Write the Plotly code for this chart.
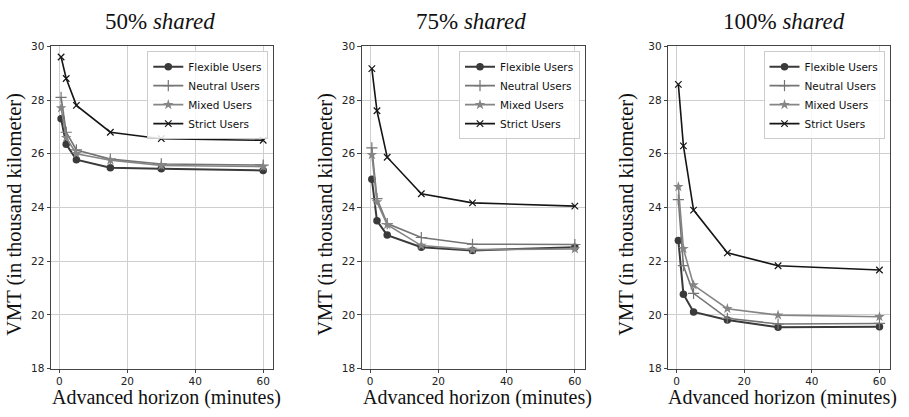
import plotly.graph_objects as go
from plotly.subplots import make_subplots

horizon = [0.5, 2, 5, 15, 30, 60]
panel_titles = ["50% <i>shared</i>", "75% <i>shared</i>", "100% <i>shared</i>"]
series_names = ["Flexible Users", "Neutral Users", "Mixed Users", "Strict Users"]

flexible_50 = [27.3, 26.35, 25.78, 25.48, 25.44, 25.38]
neutral_50 = [28.1, 26.8, 26.14, 25.8, 25.62, 25.58]
mixed_50 = [27.7, 26.6, 26.0, 25.76, 25.56, 25.52]
strict_50 = [29.6, 28.8, 27.8, 26.8, 26.56, 26.5]

flexible_75 = [25.05, 23.5, 22.97, 22.52, 22.4, 22.52]
neutral_75 = [26.22, 24.33, 23.4, 22.88, 22.63, 22.62]
mixed_75 = [25.96, 24.2, 23.36, 22.58, 22.43, 22.45]
strict_75 = [29.17, 27.6, 25.87, 24.51, 24.17, 24.05]

flexible_100 = [22.77, 20.77, 20.11, 19.81, 19.54, 19.56]
neutral_100 = [24.29, 21.83, 20.8, 19.87, 19.66, 19.68]
mixed_100 = [24.77, 22.46, 21.11, 20.23, 19.99, 19.93]
strict_100 = [28.58, 26.29, 23.9, 22.31, 21.83, 21.67]

y_ticks = [18, 20, 22, 24, 26, 28, 30]
x_ticks = [0, 20, 40, 60]

panels = [
    [flexible_50, neutral_50, mixed_50, strict_50],
    [flexible_75, neutral_75, mixed_75, strict_75],
    [flexible_100, neutral_100, mixed_100, strict_100],
]

styles = [
    dict(color="#3a3a3a", width=2.0, symbol="circle", msize=7.5, mline=0),
    dict(color="#747474", width=1.6, symbol="cross-thin", msize=8, mline=1.2),
    dict(color="#858585", width=1.6, symbol="star", msize=8, mline=0),
    dict(color="#151515", width=1.6, symbol="x-thin", msize=6.5, mline=1.2),
]

W, H = 909, 417
x_dom = [(51 / W, 273.3 / W), (361.7 / W, 585 / W), (668.3 / W, 889.5 / W)]
y_dom = (1 - 373.3 / H, 1 - 41.5 / H)

fig = make_subplots(rows=1, cols=3)

legend_names = ["legend", "legend2", "legend3"]
for p, data in enumerate(panels):
    for s, vals in enumerate(data):
        st = styles[s]
        fig.add_trace(
            go.Scatter(
                x=horizon, y=vals, mode="lines+markers", name=series_names[s],
                line=dict(color=st["color"], width=st["width"]),
                marker=dict(symbol=st["symbol"], size=st["msize"], color=st["color"],
                            line=dict(width=st["mline"], color=st["color"])),
                legend=legend_names[p],
            ),
            row=1, col=p + 1,
        )

tick_font = dict(family="DejaVu Sans", size=10.5, color="#222")
for p in range(3):
    xa = "xaxis" if p == 0 else f"xaxis{p + 1}"
    ya = "yaxis" if p == 0 else f"yaxis{p + 1}"
    fig.layout[xa].update(
        domain=list(x_dom[p]), range=[-2.475, 62.975], tickvals=x_ticks,
        showgrid=True, gridcolor="#cfcfcf", gridwidth=1, zeroline=False,
        showline=True, linecolor="#444", linewidth=1, mirror=True,
        ticks="outside", ticklen=3, tickcolor="#444", tickfont=tick_font,
    )
    fig.layout[ya].update(
        domain=list(y_dom), range=[18, 30], tickvals=y_ticks,
        showgrid=True, gridcolor="#cfcfcf", gridwidth=1, zeroline=False,
        showline=True, linecolor="#444", linewidth=1, mirror=True,
        ticks="outside", ticklen=3.5, tickcolor="#444", tickfont=tick_font,
    )

serif = "Liberation Serif"
title_x = [160, 471, 784]
ytitle_x = [15, 326, 627]
annotations = []
for p in range(3):
    annotations.append(dict(
        text=panel_titles[p], x=title_x[p] / W, y=1 - 16 / H, xref="paper", yref="paper",
        xanchor="center", yanchor="middle", showarrow=False,
        font=dict(family=serif, size=23, color="#111"),
    ))
    annotations.append(dict(
        text="Advanced horizon (minutes)", x=(x_dom[p][0] + x_dom[p][1]) / 2 + 4 / W,
        y=0, xref="paper", yref="paper",
        xanchor="center", yanchor="bottom", showarrow=False,
        font=dict(family=serif, size=20, color="#111"),
    ))
    annotations.append(dict(
        text="VMT (in thousand kilometer)", x=ytitle_x[p] / W, y=1 - 215 / H,
        xref="paper", yref="paper", textangle=-90,
        xanchor="center", yanchor="middle", showarrow=False,
        font=dict(family=serif, size=20.5, color="#111"),
    ))

legend_style = dict(
    xanchor="right", yanchor="top", y=y_dom[1] - 5 / H,
    bgcolor="rgba(255,255,255,0.85)", bordercolor="#cccccc", borderwidth=1,
    font=dict(family="DejaVu Sans", size=10.5, color="#111"),
    tracegroupgap=0, itemwidth=30,
)
fig.update_layout(
    width=W, height=H,
    margin=dict(l=0, r=0, t=0, b=0),
    paper_bgcolor="white", plot_bgcolor="white",
    annotations=annotations,
    legend=dict(x=x_dom[0][1] - 5 / W, **legend_style),
    legend2=dict(x=x_dom[1][1] - 5 / W, **legend_style),
    legend3=dict(x=x_dom[2][1] - 5 / W, **legend_style),
)

fig.write_html(
    "out.html",
    config={"displayModeBar": False},
    post_script="document.body.style.margin='0px';document.body.style.overflow='hidden';",
)
